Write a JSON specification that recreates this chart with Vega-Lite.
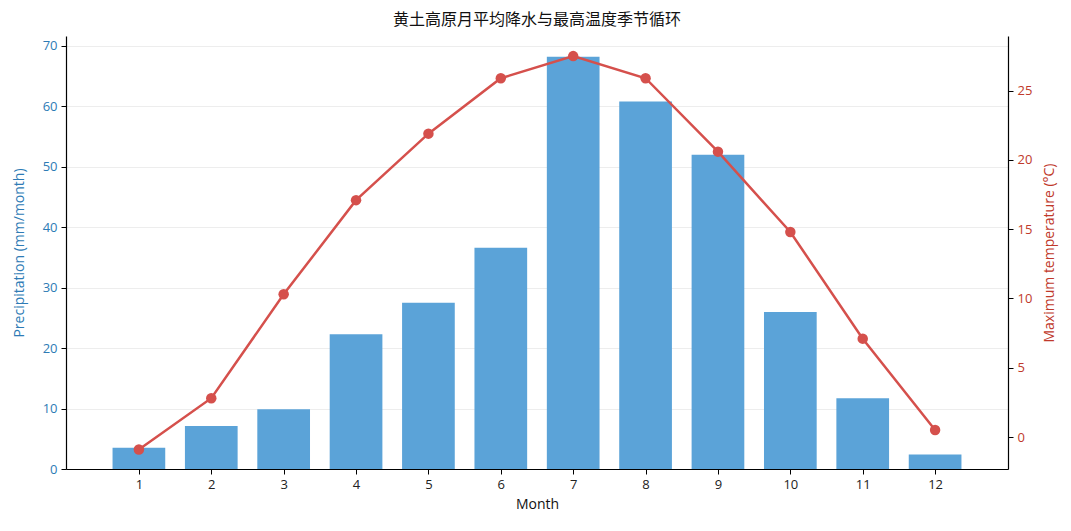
{
  "$schema": "https://vega.github.io/schema/vega-lite/v6.json",
  "autosize": {"type": "none"},
  "width": 942,
  "height": 433,
  "padding": {"left": 66, "top": 36, "right": 63, "bottom": 62},
  "background": "white",
  "title": {
    "text": "黄土高原月平均降水与最高温度季节循环",
    "font": "Noto Sans CJK SC",
    "fontSize": 16,
    "fontWeight": "normal",
    "color": "#111111",
    "anchor": "middle",
    "offset": 8
  },
  "config": {
    "view": {"stroke": null},
    "font": "Open Sans"
  },
  "data": {
    "values": [
      {"month": 1, "precip": 3.5, "tmax": -0.9},
      {"month": 2, "precip": 7.1, "tmax": 2.8},
      {"month": 3, "precip": 9.9, "tmax": 10.3},
      {"month": 4, "precip": 22.3, "tmax": 17.1},
      {"month": 5, "precip": 27.5, "tmax": 21.9},
      {"month": 6, "precip": 36.6, "tmax": 25.9},
      {"month": 7, "precip": 68.2, "tmax": 27.5},
      {"month": 8, "precip": 60.8, "tmax": 25.9},
      {"month": 9, "precip": 52.0, "tmax": 20.6},
      {"month": 10, "precip": 26.0, "tmax": 14.8},
      {"month": 11, "precip": 11.7, "tmax": 7.1},
      {"month": 12, "precip": 2.4, "tmax": 0.5}
    ]
  },
  "encoding": {
    "x": {
      "field": "month",
      "type": "quantitative",
      "scale": {"domain": [0.062, 12.938], "nice": false, "zero": false},
      "axis": {
        "title": "Month",
        "values": [1, 2, 3, 4, 5, 6, 7, 8, 9, 10, 11, 12],
        "format": "d",
        "grid": false,
        "domainColor": "#000000",
        "domainWidth": 1.2,
        "tickColor": "#000000",
        "tickSize": 5,
        "labelFontSize": 13,
        "labelColor": "#222222",
        "labelPadding": 4,
        "titleFontSize": 14,
        "titleFontWeight": "normal",
        "titleColor": "#111111",
        "titlePadding": 6
      }
    }
  },
  "layer": [
    {
      "mark": {"type": "bar", "size": 52.7, "color": "#5ba3d8"},
      "encoding": {
        "y": {
          "field": "precip",
          "type": "quantitative",
          "scale": {"domain": [0, 71.65], "nice": false},
          "axis": {
            "orient": "left",
            "title": "Precipitation (mm/month)",
            "values": [0, 10, 20, 30, 40, 50, 60, 70],
            "grid": true,
            "gridColor": "#e8e8e8",
            "gridWidth": 0.8,
            "domainColor": "#000000",
            "domainWidth": 1.2,
            "tickColor": "#000000",
            "tickSize": 5,
            "labelFontSize": 13,
            "labelColor": "#2e7bb5",
            "labelPadding": 4,
            "titleFontSize": 14,
            "titleFontWeight": "normal",
            "titleColor": "#2e7bb5",
            "titlePadding": 16
          }
        }
      }
    },
    {
      "mark": {
        "type": "line",
        "color": "#d5504c",
        "strokeWidth": 2.5,
        "point": {"filled": true, "size": 110, "color": "#d5504c", "opacity": 1}
      },
      "encoding": {
        "y": {
          "field": "tmax",
          "type": "quantitative",
          "scale": {"domain": [-2.31, 28.95], "nice": false, "zero": false},
          "axis": {
            "orient": "right",
            "title": "Maximum temperature (°C)",
            "values": [0, 5, 10, 15, 20, 25],
            "grid": false,
            "domainColor": "#000000",
            "domainWidth": 1.2,
            "tickColor": "#000000",
            "tickSize": 5,
            "labelFontSize": 13,
            "labelColor": "#c0392b",
            "labelPadding": 4,
            "titleFontSize": 14,
            "titleFontWeight": "normal",
            "titleColor": "#c0392b",
            "titleAngle": 270,
            "titleBaseline": "bottom",
            "titlePadding": 25
          }
        }
      }
    }
  ],
  "resolve": {"scale": {"y": "independent"}, "axis": {"y": "independent"}}
}
